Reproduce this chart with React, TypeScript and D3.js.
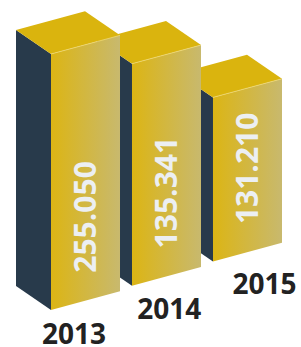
import * as d3 from "d3";
import { useEffect, useRef } from "react";

// chart data
const years = ["2013", "2014", "2015"];
const values = [255.05, 135.341, 131.21];
const valueLabels = ["255.050", "135.341", "131.210"];

export default function App() {
  const ref = useRef<SVGSVGElement>(null);

  useEffect(() => {
    const W = 301, H = 347;
    const svg = d3.select(ref.current);
    svg.selectAll("*").remove();

    // bars sit on a slanted floor line
    const x = d3.scaleBand().domain(years).range([51, 282]).paddingInner(0.148).paddingOuter(0);
    const floorY = (px: number) => 310 - 0.3 * (px - 51);
    const faceSlope = -0.27;
    const depth = { dx: -35, dy: -24 };

    // heights in the picture are not proportional, so the scale is piecewise
    const sorted = values.map((v, i) => [v, i] as [number, number]).sort((a, b) => a[0] - b[0]);
    const hRange = [164, 222, 256];
    const h = d3.scaleLinear().domain(sorted.map(d => d[0])).range(hRange);

    const defs = svg.append("defs");
    const grad = defs.append("linearGradient").attr("id", "front").attr("x1", "0").attr("x2", "1").attr("y1", "0").attr("y2", "0");
    grad.append("stop").attr("offset", "0%").attr("stop-color", "#dcb514");
    grad.append("stop").attr("offset", "100%").attr("stop-color", "#c8b96e");

    const data = years.map((y, i) => ({ year: y, value: values[i], label: valueLabels[i] }));

    const g = svg.append("g");
    // back to front
    data.slice().reverse().forEach(d => {
      const x0 = x(d.year)!;
      const bw = x.bandwidth();
      const x1 = x0 + bw;
      const yb0 = floorY(x0);
      const yb1 = yb0 + faceSlope * bw;
      const hh = h(d.value);
      const yt0 = yb0 - hh;
      const yt1 = yb1 - hh;
      const { dx, dy } = depth;

      const bar = g.append("g");
      // left side
      bar.append("path")
        .attr("d", `M${x0},${yt0}L${x0 + dx},${yt0 + dy}L${x0 + dx},${yb0 + dy}L${x0},${yb0}Z`)
        .attr("fill", "#283a4b");
      // top
      bar.append("path")
        .attr("d", `M${x0},${yt0}L${x0 + dx},${yt0 + dy}L${x1 + dx},${yt1 + dy}L${x1},${yt1}Z`)
        .attr("fill", "#dab40e");
      // front
      bar.append("path")
        .attr("d", `M${x0},${yt0}L${x1},${yt1}L${x1},${yb1}L${x0},${yb0}Z`)
        .attr("fill", "url(#front)");
      bar.append("line")
        .attr("x1", x0).attr("y1", yt0).attr("x2", x1).attr("y2", yt1)
        .attr("stroke", "#efd873").attr("stroke-width", 0.8);

      // value label, rotated
      const cx = x0 + bw / 2;
      const by = (yb0 + yb1) / 2 - 28;
      bar.append("text")
        .attr("transform", `translate(${cx + 10.5},${by}) rotate(-90)`)
        .attr("text-anchor", "start")
        .attr("font-family", "'Open Sans', sans-serif")
        .attr("font-weight", 700)
        .attr("font-size", 30)
        .attr("fill", "#eceff2")
        .text(d.label);
    });

    // year labels
    const lx = d3.scalePoint().domain(years).range([74, 264.5]);
    const ly = d3.scalePoint().domain(years).range([344, 294]);
    svg.append("g").selectAll("text")
      .data(data)
      .enter()
      .append("text")
      .attr("x", d => lx(d.year)!)
      .attr("y", d => ly(d.year)!)
      .attr("text-anchor", "middle")
      .attr("font-family", "'Open Sans', sans-serif")
      .attr("font-weight", 700)
      .attr("font-size", 28)
      .attr("fill", "#222222")
      .text(d => d.year);

    svg.attr("width", W).attr("height", H);
  }, []);

  return (
    <svg ref={ref} width={301} height={347} style={{ position: "absolute", left: 0, top: 0, background: "#fff" }} />
  );
}
